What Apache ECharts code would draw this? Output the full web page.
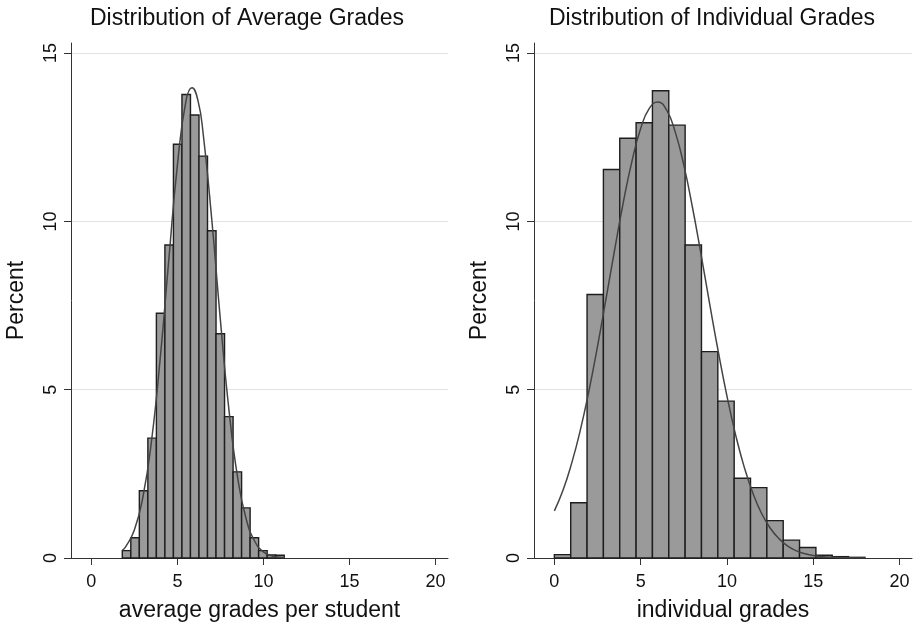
<!DOCTYPE html>
<html>
<head>
<meta charset="utf-8">
<script src="https://cdn.jsdelivr.net/npm/echarts@6/dist/echarts.min.js"></script>
<style>
  html, body { margin: 0; padding: 0; background: #fff; }
  #chart { width: 915px; height: 628px; }
</style>
</head>
<body>
<div id="chart"></div>
<script>
// histogram of average grades per student (percent per bin)
const avgBinStart = 1.8;
const avgBinWidth = 0.495;
const avgPercent = [0.22, 0.6, 2.0, 3.56, 7.27, 9.3, 12.29, 13.77, 13.16, 11.94,
  9.72, 6.66, 4.2, 2.56, 1.49, 0.6, 0.22, 0.09, 0.08];

// normal curve overlay
const avgCurveX = [1.8, 2, 2.5, 3, 3.5, 4, 4.5, 5, 5.5, 5.85, 6.2, 6.5, 7, 7.5, 8,
  8.5, 9, 9.5, 10, 10.5, 11, 11.2];
const avgCurveY = [0.23, 0.34, 0.83, 1.82, 3.49, 5.92, 8.85, 11.67, 13.58, 13.97,
  13.58, 12.59, 10.04, 7.06, 4.38, 2.39, 1.15, 0.49, 0.18, 0.06, 0.02, 0.01];

// histogram of individual grades
const indBinStart = 0;
const indBinWidth = 0.947;
const indPercent = [0.1, 1.64, 7.83, 11.54, 12.47, 12.93, 13.88, 12.86, 9.3, 6.13,
  4.66, 2.37, 2.09, 1.11, 0.53, 0.31, 0.08, 0.04, 0.02];

const indCurveX = [0, 0.5, 1, 1.5, 2, 2.5, 3, 3.5, 4, 4.5, 5, 5.5, 6, 6.5, 7, 7.5,
  8, 8.5, 9, 9.5, 10, 10.5, 11, 11.5, 12, 12.5, 13, 13.5, 14, 14.5, 15, 16, 17, 18];
const indCurveY = [1.4, 2.01, 2.81, 3.79, 4.96, 6.29, 7.72, 9.18, 10.58, 11.8,
  12.76, 13.36, 13.55, 13.31, 12.66, 11.67, 10.42, 9.01, 7.54, 6.12,
  4.81, 3.66, 2.7, 1.93, 1.33, 0.89, 0.58, 0.36, 0.22, 0.13, 0.075, 0.022, 0.006, 0.001];

const xTicks = [0, 5, 10, 15, 20];
const yTicks = [0, 5, 10, 15];

const titles = ['Distribution of Average Grades', 'Distribution of Individual Grades'];
const xNames = ['average grades per student', 'individual grades'];

const FONT = 'Liberation Sans';

function bins(start, width, values) {
  return values.map((v, i) => [start + i * width, start + (i + 1) * width, v]);
}
function zip(xs, ys) {
  return xs.map((x, i) => [x, ys[i]]);
}

function renderBar(params, api) {
  const p0 = api.coord([api.value(0), api.value(2)]);
  const p1 = api.coord([api.value(1), 0]);
  return {
    type: 'rect',
    shape: { x: p0[0], y: p0[1], width: p1[0] - p0[0], height: p1[1] - p0[1] },
    style: { fill: '#9a9a9a', stroke: '#1e1e1e', lineWidth: 1.4 }
  };
}

function xAxis(i) {
  return {
    type: 'value', gridIndex: i, min: -1.18, max: 20.72,
    name: xNames[i], nameLocation: 'middle', nameGap: 41,
    nameTextStyle: { fontFamily: FONT, fontSize: 23, color: '#111' },
    axisLine: { onZero: false, lineStyle: { color: '#333', width: 1 } },
    axisTick: { customValues: xTicks, length: 7, lineStyle: { color: '#333' } },
    axisLabel: { customValues: xTicks, margin: 15, fontFamily: FONT, fontSize: 18, color: '#111' },
    splitLine: { show: false }
  };
}
function yAxis(i) {
  return {
    type: 'value', gridIndex: i, min: 0, max: 15.3,
    name: 'Percent', nameLocation: 'middle', nameGap: 43,
    nameTextStyle: { fontFamily: FONT, fontSize: 23, color: '#111' },
    axisLine: { show: true, onZero: false, lineStyle: { color: '#333', width: 1 } },
    axisTick: { show: true, customValues: yTicks, length: 7, lineStyle: { color: '#333' } },
    axisLabel: { customValues: yTicks, rotate: 90, margin: 11, fontFamily: FONT, fontSize: 18, color: '#111' },
    splitLine: { show: true, lineStyle: { color: '#e3e3e3', width: 1.2 } }
  };
}

const chart = echarts.init(document.getElementById('chart'), null, { renderer: 'canvas' });
chart.setOption({
  backgroundColor: '#fff',
  animation: false,
  title: [
    { text: titles[0], left: 90, top: 7, padding: 0, textStyle: { fontFamily: FONT, fontSize: 23, fontWeight: 'normal', color: '#111' } },
    { text: titles[1], left: 549, top: 7, padding: 0, textStyle: { fontFamily: FONT, fontSize: 23, fontWeight: 'normal', color: '#111' } }
  ],
  grid: [
    { left: 71, right: 467, top: 43, bottom: 70 },
    { left: 534, right: 3, top: 43, bottom: 70 }
  ],
  xAxis: [xAxis(0), xAxis(1)],
  yAxis: [yAxis(0), yAxis(1)],
  series: [
    {
      type: 'custom', xAxisIndex: 0, yAxisIndex: 0,
      renderItem: renderBar, encode: { x: [0, 1], y: 2 },
      data: bins(avgBinStart, avgBinWidth, avgPercent)
    },
    {
      type: 'line', xAxisIndex: 0, yAxisIndex: 0, smooth: true, symbol: 'none',
      lineStyle: { color: '#444', width: 1.5 }, z: 5,
      data: zip(avgCurveX, avgCurveY)
    },
    {
      type: 'custom', xAxisIndex: 1, yAxisIndex: 1,
      renderItem: renderBar, encode: { x: [0, 1], y: 2 },
      data: bins(indBinStart, indBinWidth, indPercent)
    },
    {
      type: 'line', xAxisIndex: 1, yAxisIndex: 1, smooth: true, symbol: 'none',
      lineStyle: { color: '#444', width: 1.5 }, z: 5,
      data: zip(indCurveX, indCurveY)
    }
  ]
});
</script>
</body>
</html>
